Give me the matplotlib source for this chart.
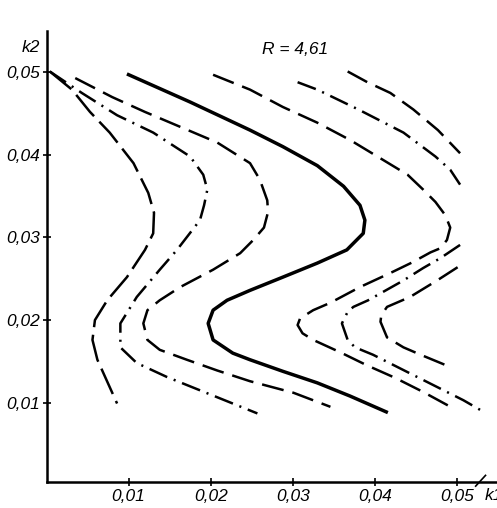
import matplotlib
matplotlib.use('Agg')
import matplotlib.pyplot as plt

matplotlib.rcParams['font.family'] = ['Liberation Sans Narrow', 'Liberation Sans', 'DejaVu Sans']
matplotlib.rcParams['font.style'] = 'italic'
matplotlib.rcParams['lines.scale_dashes'] = False
matplotlib.rcParams['lines.dash_capstyle'] = 'butt'

# curves (k1, k2)
solid_k1 = [0.0098, 0.0175, 0.0248, 0.0288, 0.0330, 0.0362, 0.0382, 0.0388, 0.0386, 0.0366,
            0.0330, 0.0288, 0.0248, 0.0220, 0.0203, 0.0197, 0.0203, 0.0227, 0.0248, 0.0288,
            0.0330, 0.0370, 0.0416]
solid_k2 = [0.0498, 0.0464, 0.0430, 0.0410, 0.0387, 0.0362, 0.0339, 0.0321, 0.0305, 0.0285,
            0.0269, 0.0252, 0.0236, 0.0224, 0.0212, 0.0196, 0.0176, 0.0160, 0.0152, 0.0138,
            0.0124, 0.0108, 0.0088]

l1_k1 = [0.0004, 0.0031, 0.0053, 0.0077, 0.0106, 0.0124, 0.0131, 0.0130, 0.0120, 0.0098,
         0.0074, 0.0059, 0.0056, 0.0062, 0.0086]
l1_k2 = [0.0501, 0.0479, 0.0452, 0.0427, 0.0390, 0.0354, 0.0330, 0.0305, 0.0285, 0.0252,
         0.0224, 0.0200, 0.0176, 0.0152, 0.0099]

l2_k1 = [0.0004, 0.0043, 0.0086, 0.0130, 0.0175, 0.0191, 0.0196, 0.0192, 0.0187, 0.0159,
         0.0138, 0.0110, 0.0090, 0.0090, 0.0110, 0.0147, 0.0187, 0.0227, 0.0257]
l2_k2 = [0.0501, 0.0475, 0.0448, 0.0427, 0.0398, 0.0376, 0.0358, 0.0339, 0.0321, 0.0285,
         0.0261, 0.0228, 0.0196, 0.0167, 0.0148, 0.0131, 0.0115, 0.0099, 0.0087]

l3_k1 = [0.0035, 0.0080, 0.0120, 0.0208, 0.0248, 0.0260, 0.0269, 0.0270, 0.0265, 0.0252,
         0.0236, 0.0203, 0.0163, 0.0138, 0.0123, 0.0118, 0.0123, 0.0138, 0.0171, 0.0208,
         0.0248, 0.0301, 0.0346]
l3_k2 = [0.0493, 0.0470, 0.0452, 0.0415, 0.0390, 0.0370, 0.0345, 0.0331, 0.0312, 0.0297,
         0.0281, 0.0261, 0.0240, 0.0224, 0.0212, 0.0196, 0.0176, 0.0164, 0.0152, 0.0139,
         0.0126, 0.0112, 0.0095]

r1_k1 = [0.0203, 0.0248, 0.0288, 0.0330, 0.0370, 0.0410, 0.0440, 0.0459, 0.0474, 0.0486,
         0.0492, 0.0488, 0.0480, 0.0468, 0.0446, 0.0419, 0.0382, 0.0346, 0.0325, 0.0309,
         0.0306, 0.0312, 0.0325, 0.0358, 0.0391, 0.0425, 0.0459, 0.0496]
r1_k2 = [0.0497, 0.0479, 0.0458, 0.0439, 0.0418, 0.0394, 0.0376, 0.0358, 0.0343, 0.0327,
         0.0312, 0.0297, 0.0287, 0.0282, 0.0270, 0.0257, 0.0240, 0.0221, 0.0212, 0.0202,
         0.0194, 0.0184, 0.0176, 0.0161, 0.0145, 0.0130, 0.0113, 0.0093]

r2a_k1 = [0.0306, 0.0330, 0.0380, 0.0435, 0.0474, 0.0492, 0.0504]
r2a_k2 = [0.0488, 0.0479, 0.0455, 0.0427, 0.0398, 0.0382, 0.0364]
r2b_k1 = [0.0504, 0.0480, 0.0459, 0.0435, 0.0392, 0.0374, 0.0367, 0.0360, 0.0367, 0.0376,
          0.0398, 0.0440, 0.0484, 0.0508, 0.0529]
r2b_k2 = [0.0291, 0.0275, 0.0263, 0.0248, 0.0224, 0.0216, 0.0210, 0.0196, 0.0176, 0.0167,
          0.0158, 0.0137, 0.0115, 0.0103, 0.0091]

r3a_k1 = [0.0367, 0.0391, 0.0419, 0.0447, 0.0477, 0.0504]
r3a_k2 = [0.0501, 0.0488, 0.0475, 0.0455, 0.0430, 0.0402]
r3b_k1 = [0.0501, 0.0476, 0.0443, 0.0415, 0.0408, 0.0407, 0.0415, 0.0435, 0.0456, 0.0495]
r3b_k2 = [0.0264, 0.0248, 0.0228, 0.0216, 0.0206, 0.0198, 0.0179, 0.0167, 0.0158, 0.0142]

ticks = [0.01, 0.02, 0.03, 0.04, 0.05]
tick_labels = ['0,01', '0,02', '0,03', '0,04', '0,05']

dash = (0, (16, 6.5))
long_dash = (0, (20, 5.5))
dash_dot = (0, (14, 5, 1.5, 5))

fig = plt.figure(figsize=(4.97, 5.08), dpi=100)
ax = fig.add_axes([0.0936, 0.0512, 0.9064, 0.8878])

ax.plot(solid_k1, solid_k2, color='k', lw=2.5, solid_capstyle='butt')
ax.plot(l1_k1, l1_k2, color='k', lw=1.8, linestyle=long_dash)
ax.plot(l2_k1, l2_k2, color='k', lw=1.8, linestyle=dash_dot)
ax.plot(l3_k1, l3_k2, color='k', lw=1.8, linestyle=dash)
ax.plot(r1_k1, r1_k2, color='k', lw=1.8, linestyle=dash)
ax.plot(r2a_k1, r2a_k2, color='k', lw=1.8, linestyle=dash_dot)
ax.plot(r2b_k1, r2b_k2, color='k', lw=1.8, linestyle=dash_dot)
ax.plot(r3a_k1, r3a_k2, color='k', lw=1.8, linestyle=dash)
ax.plot(r3b_k1, r3b_k2, color='k', lw=1.8, linestyle=dash)

ax.set_xlim(0, 0.0549)
ax.set_ylim(0.0004, 0.0550)
for side in ['top', 'right']:
    ax.spines[side].set_visible(False)
for side in ['left', 'bottom']:
    ax.spines[side].set_linewidth(1.8)

ax.set_xticks(ticks)
ax.set_xticklabels(tick_labels)
ax.set_yticks(ticks)
ax.set_yticklabels(tick_labels)
ax.tick_params(direction='inout', length=6, width=1.2, labelsize=12.5, pad=2)

# slash mark on the k1 axis
ax.plot([0.0523, 0.0535], [-0.0001, 0.0012], color='k', lw=1.2, clip_on=False)

fig.text(31 / 497, 1 - 47 / 508, 'k2', fontsize=12.5, ha='center', va='center')
fig.text(485 / 497, 1 - 495 / 508, 'k1', fontsize=12.5, ha='left', va='center')
fig.text(295 / 497, 1 - 49 / 508, 'R = 4,61', fontsize=12.5, ha='center', va='center')

fig.savefig('out.png', dpi=100)
